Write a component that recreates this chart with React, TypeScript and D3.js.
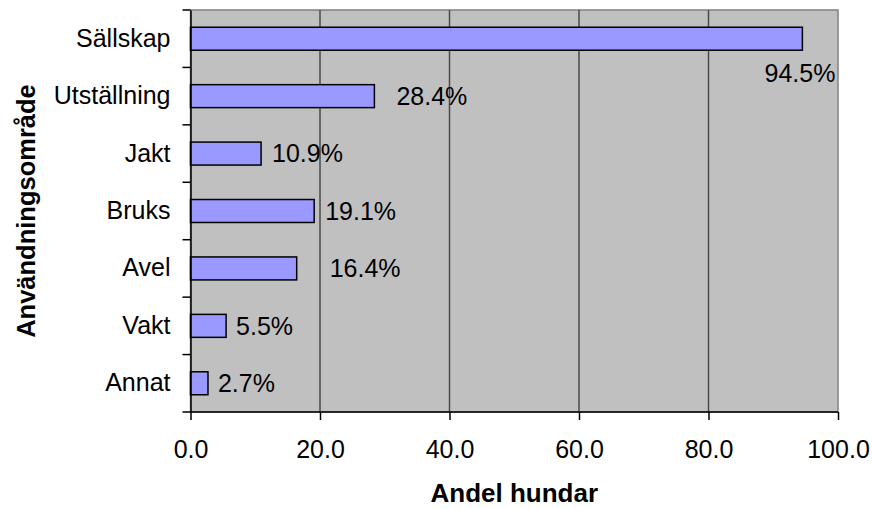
import React, { useEffect, useRef } from "react";
import * as d3 from "d3";

const categories = ["Sällskap", "Utställning", "Jakt", "Bruks", "Avel", "Vakt", "Annat"];
const values = [94.5, 28.4, 10.9, 19.1, 16.4, 5.5, 2.7];
const xTicks = [0, 20, 40, 60, 80, 100];
// manual label placement (Excel labels were dragged around)
const labelDx = [0, 22, 11, 11, 33, 10, 10];
const labelDy = [35, 0, 0, 0, 0, 0, 0];

const W = 872, H = 509;
const margin = { left: 190.5, right: 34, top: 10, bottom: 97 };

export default function App() {
  const svgRef = useRef<SVGSVGElement>(null);

  useEffect(() => {
    const svg = d3.select(svgRef.current);
    svg.selectAll("*").remove();
    const font = "'Liberation Sans', Arial, sans-serif";

    const x = d3.scaleLinear().domain([0, 100]).range([margin.left, W - margin.right]);
    const y = d3.scaleBand().domain(categories).range([margin.top, H - margin.bottom]).paddingInner(0.6).paddingOuter(0.3);
    const band = d3.scaleBand().domain(categories).range([margin.top, H - margin.bottom]);

    const g = svg.append("g");

    // plot area
    g.append("rect")
      .attr("x", x(0)).attr("y", margin.top)
      .attr("width", x(100) - x(0)).attr("height", H - margin.bottom - margin.top)
      .attr("fill", "#c0c0c0").attr("stroke", "#808080").attr("stroke-width", 1.5);

    // gridlines
    g.selectAll(".grid").data(xTicks.slice(1, -1)).enter().append("line")
      .attr("x1", d => x(d)).attr("x2", d => x(d))
      .attr("y1", margin.top).attr("y2", H - margin.bottom)
      .attr("stroke", "#4a4a4a").attr("stroke-width", 1.5);

    // bars
    g.selectAll(".bar").data(values).enter().append("rect")
      .attr("x", x(0))
      .attr("y", (d, i) => y(categories[i])!)
      .attr("width", d => x(d) - x(0))
      .attr("height", y.bandwidth())
      .attr("fill", "#9999ff").attr("stroke", "#000").attr("stroke-width", 1.5);

    // value labels
    g.selectAll(".lbl").data(values).enter().append("text")
      .attr("x", (d, i) => i === 0 ? x(d) + 33 : x(d) + labelDx[i])
      .attr("y", (d, i) => band(categories[i])! + band.bandwidth() / 2 + labelDy[i])
      .attr("dy", "0.35em")
      .attr("text-anchor", (d, i) => i === 0 ? "end" : "start")
      .attr("font-family", font).attr("font-size", 25)
      .text(d => d.toFixed(1) + "%");

    // y axis
    const yAxis = g.append("g").attr("transform", `translate(${x(0)},0)`)
      .call(d3.axisLeft(band).tickSize(0).tickPadding(20));
    yAxis.select(".domain").attr("stroke", "#000").attr("stroke-width", 1.5);
    yAxis.selectAll("text").attr("font-family", font).attr("font-size", 25).attr("fill", "#000");
    const edges = d3.range(categories.length + 1).map(i => margin.top + i * band.step());
    g.selectAll(".ytick").data(edges).enter().append("line")
      .attr("x1", x(0) - 8).attr("x2", x(0))
      .attr("y1", d => d).attr("y2", d => d)
      .attr("stroke", "#000").attr("stroke-width", 1.5);

    // x axis
    const xAxis = g.append("g").attr("transform", `translate(0,${H - margin.bottom})`)
      .call(d3.axisBottom(x).tickValues(xTicks).tickSize(8).tickPadding(20).tickFormat(d => (+d).toFixed(1)));
    xAxis.select(".domain").attr("stroke", "#000").attr("stroke-width", 1.5).attr("d", `M${x(0)},0H${x(100)}`);
    xAxis.selectAll("line").attr("stroke", "#000").attr("stroke-width", 1.5);
    xAxis.selectAll("text").attr("font-family", font).attr("font-size", 25).attr("fill", "#000");

    // axis titles
    svg.append("text")
      .attr("x", (x(0) + x(100)) / 2).attr("y", 502)
      .attr("text-anchor", "middle")
      .attr("font-family", font).attr("font-size", 26).attr("font-weight", "bold")
      .text("Andel hundar");
    svg.append("text")
      .attr("transform", `translate(35,${(margin.top + H - margin.bottom) / 2}) rotate(-90)`)
      .attr("text-anchor", "middle")
      .attr("font-family", font).attr("font-size", 25.5).attr("font-weight", "bold")
      .text("Användningsområde");
  }, []);

  return (
    <svg ref={svgRef} width={W} height={H}
      style={{ position: "absolute", left: 0, top: 0, background: "#fff" }} />
  );
}
